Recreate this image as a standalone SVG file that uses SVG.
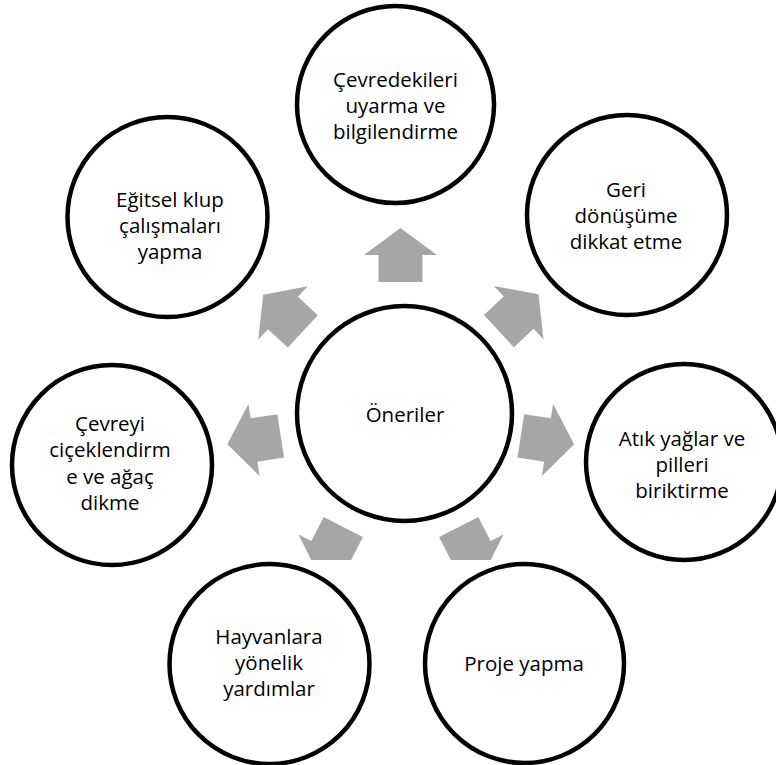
<svg xmlns="http://www.w3.org/2000/svg" width="776" height="765" viewBox="0 0 776 765">
<style>
.node circle{fill:#fff;stroke:#000;stroke-width:4.5}
.node text{font-family:"Open Sans","Liberation Sans",sans-serif;font-size:20.5px;fill:#000;text-anchor:middle}
.arrow{fill:#a6a6a6}
</style>
<defs>
<polygon id="arr" points="27,0 0,36.5 0,22 -27,22 -27,-22 0,-22 0,-36.5"/>
<clipPath id="clipBottom"><rect x="0" y="0" width="776" height="560"/></clipPath>
</defs>
<rect width="776" height="765" fill="#fff"/>
<g id="connectors">
<use href="#arr" class="arrow" transform="translate(400.5,255) rotate(-90)"/>
<use href="#arr" class="arrow" transform="translate(518.7,312.7) rotate(-42.8)"/>
<use href="#arr" class="arrow" transform="translate(547.5,440) rotate(8.8)"/>
<g clip-path="url(#clipBottom)">
<use href="#arr" class="arrow" transform="translate(471,551) rotate(63)"/>
<use href="#arr" class="arrow" transform="translate(331,551) rotate(117)"/>
</g>
<use href="#arr" class="arrow" transform="translate(254,440) rotate(171.2)"/>
<use href="#arr" class="arrow" transform="translate(283,313) rotate(-137.2)"/>
</g>
<g id="center" class="node">
<circle cx="404.5" cy="413.5" r="107.5"/>
<text x="405" y="422">Öneriler</text>
</g>
<g id="n1" class="node">
<circle cx="395.5" cy="104.5" r="98.5"/>
<text x="395.5" y="87">Çevredekileri</text>
<text x="395.5" y="113">uyarma ve</text>
<text x="395.5" y="139">bilgilendirme</text>
</g>
<g id="n2" class="node">
<circle cx="627" cy="215" r="100"/>
<text x="626" y="197">Geri</text>
<text x="626" y="223">dönüşüme</text>
<text x="626" y="249">dikkat etme</text>
</g>
<g id="n3" class="node">
<circle cx="684" cy="462" r="98"/>
<text x="682" y="446">Atık yağlar ve</text>
<text x="682" y="472">pilleri</text>
<text x="682" y="498">biriktirme</text>
</g>
<g id="n4" class="node">
<circle cx="524.5" cy="663.5" r="99.5"/>
<text x="524" y="671">Proje yapma</text>
</g>
<g id="n5" class="node">
<circle cx="269.5" cy="664" r="100"/>
<text x="269" y="644">Hayvanlara</text>
<text x="269" y="670">yönelik</text>
<text x="269" y="696">yardımlar</text>
</g>
<g id="n6" class="node">
<circle cx="112" cy="465" r="100"/>
<text x="110" y="431">Çevreyi</text>
<text x="110" y="457">ciçeklendirm</text>
<text x="110" y="484">e ve ağaç</text>
<text x="110" y="510">dikme</text>
</g>
<g id="n7" class="node">
<circle cx="167.5" cy="217" r="100"/>
<text x="170" y="207">Eğitsel klup</text>
<text x="170" y="233">çalışmaları</text>
<text x="170" y="259">yapma</text>
</g>
</svg>
